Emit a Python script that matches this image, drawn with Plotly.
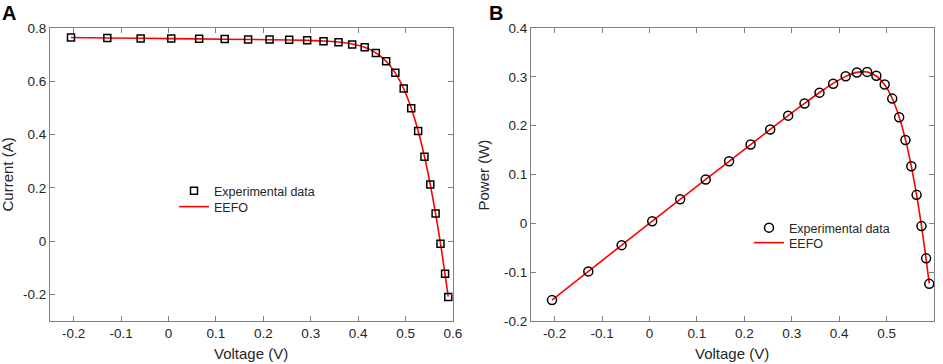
import plotly.graph_objects as go

voltage = [-0.2057, -0.1291, -0.0588, 0.0057, 0.0646, 0.1185, 0.1678, 0.2132, 0.2545,
           0.2924, 0.3269, 0.3585, 0.3873, 0.4137, 0.4373, 0.4590, 0.4784, 0.4960,
           0.5119, 0.5265, 0.5398, 0.5521, 0.5633, 0.5736, 0.5833, 0.5900]
current_exp = [0.7640, 0.7620, 0.7605, 0.7605, 0.7600, 0.7590, 0.7570, 0.7570, 0.7555,
               0.7540, 0.7505, 0.7465, 0.7385, 0.7280, 0.7065, 0.6755, 0.6320, 0.5730,
               0.4990, 0.4130, 0.3165, 0.2120, 0.1035, -0.0100, -0.1230, -0.2100]
current_eefo = [0.7641, 0.7627, 0.7614, 0.7602, 0.7591, 0.7580, 0.7571, 0.7561, 0.7551,
                0.7537, 0.7514, 0.7473, 0.7400, 0.7274, 0.7069, 0.6752, 0.6307, 0.5719,
                0.4996, 0.4136, 0.3175, 0.2121, 0.1022, -0.0087, -0.1255, -0.2084]
power_exp = [-0.1572, -0.0984, -0.0447, 0.0043, 0.0491, 0.0899, 0.1270, 0.1614, 0.1923,
             0.2205, 0.2453, 0.2676, 0.2860, 0.3012, 0.3090, 0.3101, 0.3023, 0.2842,
             0.2554, 0.2174, 0.1708, 0.1170, 0.0583, -0.0057, -0.0717, -0.1239]
power_eefo = [-0.1572, -0.0985, -0.0448, 0.0043, 0.0490, 0.0898, 0.1270, 0.1612, 0.1922,
              0.2204, 0.2456, 0.2679, 0.2866, 0.3009, 0.3091, 0.3100, 0.3017, 0.2837,
              0.2557, 0.2178, 0.1714, 0.1171, 0.0576, -0.0050, -0.0732, -0.1230]

x_ticks = [-0.2, -0.1, 0, 0.1, 0.2, 0.3, 0.4, 0.5, 0.6]
yA_ticks = [-0.2, 0, 0.2, 0.4, 0.6, 0.8]
yB_ticks = [-0.2, -0.1, 0, 0.1, 0.2, 0.3, 0.4]

FONT = "Liberation Sans, Arial, sans-serif"
TXT = "#262626"
AX = "#808080"

fig = go.Figure()

fig.add_trace(go.Scatter(x=voltage, y=current_eefo, mode="lines", name="EEFO",
                         line=dict(color="#ff0000", width=1.6, shape="spline"),
                         xaxis="x", yaxis="y", legend="legend3"))
fig.add_trace(go.Scatter(x=voltage, y=current_exp, mode="markers", name="Experimental data",
                         marker=dict(symbol="square-open", size=7, color="black",
                                     line=dict(width=1.5, color="black")),
                         xaxis="x", yaxis="y", legend="legend"))
fig.add_trace(go.Scatter(x=voltage, y=power_eefo, mode="lines", name="EEFO",
                         line=dict(color="#ff0000", width=1.6, shape="spline"),
                         xaxis="x2", yaxis="y2", legend="legend4"))
fig.add_trace(go.Scatter(x=voltage, y=power_exp, mode="markers", name="Experimental data",
                         marker=dict(symbol="circle-open", size=9, color="black",
                                     line=dict(width=1.5, color="black")),
                         xaxis="x2", yaxis="y2", legend="legend2"))

def xaxis(domain, anchor):
    return dict(domain=domain, anchor=anchor, range=[-0.25, 0.6], tickvals=x_ticks,
                ticktext=[f"{v:g}" for v in x_ticks], ticks="inside", ticklen=5,
                tickcolor=AX, showline=True, linecolor=AX, linewidth=1, mirror="ticks",
                showgrid=False, zeroline=False, automargin=False,
                tickfont=dict(family=FONT, size=13.5, color=TXT))

def yaxis(domain, anchor, rng, ticks):
    return dict(domain=domain, anchor=anchor, range=rng, tickvals=ticks,
                ticktext=[f"{v:g}" for v in ticks], ticks="inside", ticklen=5,
                tickcolor=AX, showline=True, linecolor=AX, linewidth=1, mirror="ticks",
                showgrid=False, zeroline=False, automargin=False,
                tickfont=dict(family=FONT, size=13.5, color=TXT))

def leg(x, y):
    return dict(x=x / 943, y=1 - y / 364, xanchor="left", yanchor="top",
                bgcolor="rgba(0,0,0,0)", font=dict(family=FONT, size=12.5, color=TXT),
                tracegroupgap=0, itemwidth=30)

ydom = [1 - 321 / 364, 1 - 28 / 364]
fig.update_layout(
    width=943, height=364,
    margin=dict(l=0, r=0, t=0, b=0),
    paper_bgcolor="white", plot_bgcolor="white",
    showlegend=True,
    xaxis=xaxis([50 / 943, 453 / 943], "y"),
    yaxis=yaxis(ydom, "x", [-0.3, 0.8], yA_ticks),
    xaxis2=xaxis([531 / 943, 934 / 943], "y2"),
    yaxis2=yaxis(ydom, "x2", [-0.2, 0.4], yB_ticks),
    legend=leg(174, 176),
    legend3=leg(174, 192),
    legend2=leg(749, 213),
    legend4=leg(749, 228),
    annotations=[
        dict(text="<b>A</b>", x=0, y=1, xref="paper", yref="paper", xanchor="left",
             yanchor="top", showarrow=False, font=dict(family=FONT, size=20, color="black")),
        dict(text="<b>B</b>", x=487 / 943, y=1, xref="paper", yref="paper", xanchor="left",
             yanchor="top", showarrow=False, font=dict(family=FONT, size=20, color="black")),
        dict(text="Voltage (V)", x=251 / 943, y=0, xref="paper", yref="paper",
             xanchor="center", yanchor="bottom", showarrow=False,
             font=dict(family=FONT, size=15, color=TXT)),
        dict(text="Voltage (V)", x=732 / 943, y=0, xref="paper", yref="paper",
             xanchor="center", yanchor="bottom", showarrow=False,
             font=dict(family=FONT, size=15, color=TXT)),
        dict(text="Current (A)", x=0, y=(1 - 175 / 364), xref="paper", yref="paper",
             xanchor="left", yanchor="middle", textangle=-90, showarrow=False, xshift=-4,
             font=dict(family=FONT, size=15, color=TXT)),
        dict(text="Power (W)", x=476 / 943, y=(1 - 175 / 364), xref="paper", yref="paper",
             xanchor="left", yanchor="middle", textangle=-90, showarrow=False, xshift=-4,
             font=dict(family=FONT, size=15, color=TXT)),
    ],
)

fig.write_html("out.html", config={"displayModeBar": False},
               post_script="document.body.style.margin='0';document.body.style.overflow='hidden';")
